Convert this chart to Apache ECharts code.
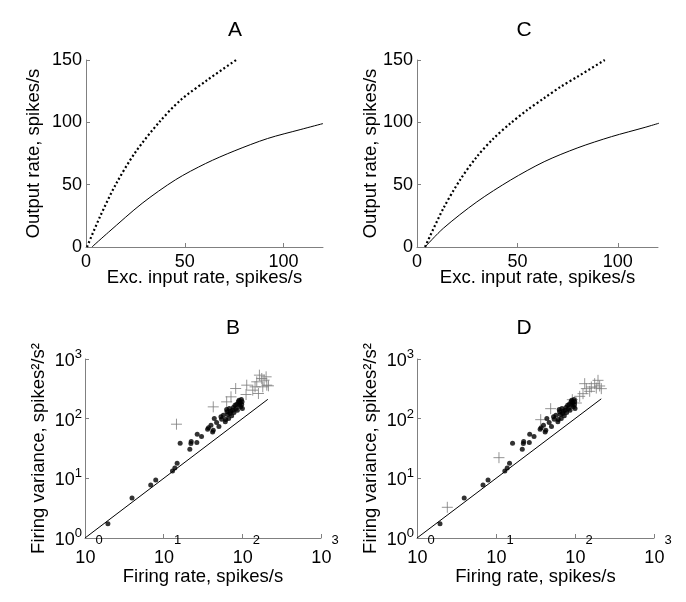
<!DOCTYPE html>
<html><head><meta charset="utf-8">
<script src="https://cdn.jsdelivr.net/npm/echarts@6/dist/echarts.min.js"></script>
<style>html,body{margin:0;padding:0;background:#fff}#c{width:686px;height:602px}</style>
</head><body><div id="c"></div>
<script>
// Panel A
const aSolidX = [3, 11.5, 28.4, 45.4, 60.6, 75, 91.9, 108.8, 120];
const aSolidY = [0, 12, 35, 54, 67, 77, 87, 94.3, 99];
const aDotX = [0.5, 7, 15, 25, 37, 48, 61.5, 76];
const aDotY = [0, 24, 50, 76, 100, 118, 134, 150];
// Panel C
const cSolidX = [4, 13.1, 29.8, 46.6, 63.3, 80.1, 96.8, 113.6, 120.5];
const cSolidY = [0, 15, 36.2, 53.7, 68.4, 79.6, 88.5, 96, 99.3];
const cDotX = [4, 13.1, 21.4, 29.8, 38.2, 46.6, 55, 63.3, 71.7, 80.1, 93.5];
const cDotY = [0, 30.9, 53.7, 72.4, 87.2, 99.3, 110, 119.4, 128.7, 136.8, 150];
// Panels B & D: filled dots (same in both)
const dotRate = [1.955, 3.96, 6.85, 7.93, 12.94, 13.86, 14.84, 16.2, 21.5, 22.2, 22.4, 26.7, 26.4, 30.3,
  36.2, 37.2, 39.9, 41.9, 42.7, 44.0, 47.1, 50.4, 53.5, 54.6, 57.3, 60.7, 61.4, 63.2, 63.8, 65.1,
  67.0, 68.3, 69.7, 71.0, 73.2, 75.4, 76.9, 78.4, 80.7, 83.1, 84.8, 86.4, 89.0, 90.8, 91.6, 93.5,
  95.3, 97.2, 98.1, 100.1, 99.1];
const dotVar = [1.74, 4.69, 7.75, 9.40, 13.31, 14.95, 17.9, 38.8, 30.7, 38.3, 41.3, 54.9, 39.8, 50.1,
  66.6, 70.1, 77.7, 60.0, 64.0, 100.5, 86.1, 73.8, 107.2, 98.0, 114.3, 88.4, 96.7, 142.3, 130.0, 117.3,
  100.5, 147.9, 122.0, 133.4, 111.4, 138.7, 153.8, 126.8, 168.3, 147.9, 174.9, 138.7, 191.4, 204.1, 168.3, 186.6,
  157.8, 209.4, 172.7, 147.9, 191.4];
// Panel B crosses
const bCrossRate = [14.55, 42.7, 63.2, 71.8, 82.3, 111.5, 113.7, 135.6, 145.2, 160.2, 164.9, 176.6, 200.6, 204.6, 181.9, 214.8, 189.1, 152.5];
const bCrossVar = [80.8, 157.8, 191.4, 232.2, 320.3, 254.1, 364.3, 300.4, 341.6, 264.1, 536.2, 471.4, 502.8, 364.3, 341.6, 354.9, 442, 414.4];
// Panel D crosses
const dCrossRate = [2.42, 10.9, 36.8, 49.2, 92.5, 104.0, 114.6, 126.3, 132.6, 139.1, 153.4, 161.0, 177.4, 195.5, 205.2, 215.4, 186];
const dCrossVar = [3.27, 22.2, 96.2, 147.1, 208.2, 183.0, 236.8, 262.4, 386.1, 318.4, 287.2, 339.5, 386.1, 439.0, 352.8, 318.4, 326];
// identity lines
const bLineX = [1, 211];
const dLineX = [1, 215];
// ticks
const linTicksX = [0, 50, 100];
const linTicksY = [0, 50, 100, 150];
const logTicks = [1, 10, 100, 1000];
const titles = ['A', 'C', 'B', 'D'];

const FONT = '"Liberation Sans", Arial, Helvetica, sans-serif';
const AX = '#808080';
const pairs = (xs, ys) => xs.map((x, i) => [x, ys[i]]);

const grids = [
  {left: 86, top: 60, width: 237, height: 187},
  {left: 417, top: 60, width: 241, height: 187},
  {left: 85, top: 359, width: 236, height: 179},
  {left: 417, top: 359, width: 237, height: 179}
].map(g => Object.assign(g, {containLabel: false, outerBoundsMode: 'none'}));

const common = {
  axisLine: {show: true, onZero: false, lineStyle: {color: AX, width: 1}},
  axisTick: {show: true, inside: true, length: 4, lineStyle: {color: AX, width: 1}},
  splitLine: {show: false},
  minorTick: {show: false},
  nameLocation: 'middle',
  nameMoveOverlap: false,
  nameTextStyle: {fontFamily: FONT, fontSize: 18.5, color: '#000'}
};
function linX(gi, name) {
  return Object.assign({}, common, {
    type: 'value', gridIndex: gi, min: 0, max: 120, interval: 50, name: name, nameGap: 21,
    axisLabel: {fontFamily: FONT, fontSize: 18, color: '#000', margin: 6, showMaxLabel: false,
      formatter: v => linTicksX.indexOf(v) >= 0 ? String(v) : ''}
  });
}
function linY(gi, name, gap) {
  return Object.assign({}, common, {
    type: 'value', gridIndex: gi, min: 0, max: 150, interval: 50, name: name, nameGap: gap,
    axisLabel: {fontFamily: FONT, fontSize: 18, color: '#000', margin: 4,
      formatter: v => linTicksY.indexOf(v) >= 0 ? String(v) : ''}
  });
}
const expOf = v => Math.round(Math.log10(v));
function logX(gi, name) {
  return Object.assign({}, common, {
    type: 'log', logBase: 10, gridIndex: gi, min: 1, max: 1000, splitNumber: 3, name: name, nameGap: 29,
    axisLabel: {margin: -4, color: '#000', showMaxLabel: true, showMinLabel: true,
      formatter: v => logTicks.indexOf(v) >= 0 ? '{b|10}{s|' + expOf(v) + '}' : '',
      rich: {
        b: {fontFamily: FONT, fontSize: 18, color: '#000', padding: [0, 0, 0, 8], verticalAlign: 'bottom'},
        s: {fontFamily: FONT, fontSize: 13, color: '#000', padding: [0, 0, 20, 0], verticalAlign: 'bottom'}
      }}
  });
}
function logY(gi, name) {
  return Object.assign({}, common, {
    type: 'log', logBase: 10, gridIndex: gi, min: 1, max: 1000, splitNumber: 3, name: name, nameGap: 36.5,
    axisLabel: {margin: 3, color: '#000', showMaxLabel: true, showMinLabel: true,
      formatter: v => logTicks.indexOf(v) >= 0 ? '{b|10}{s|' + expOf(v) + '}' : '',
      rich: {
        b: {fontFamily: FONT, fontSize: 18, color: '#000', verticalAlign: 'bottom'},
        s: {fontFamily: FONT, fontSize: 13, color: '#000', padding: [0, 0, 9, 0], verticalAlign: 'bottom'}
      }}
  });
}

const titlePos = [[235, 20], [524, 20], [233, 318], [524, 318]];
const lineOpts = {smooth: 0.3, showSymbol: false};
const option = {
  animation: false,
  backgroundColor: '#fff',
  title: titles.map((t, i) => ({text: t, left: titlePos[i][0], top: titlePos[i][1], textAlign: 'center', padding: 0,
    textStyle: {fontFamily: FONT, fontSize: 21, fontWeight: 'normal', color: '#000'}})),
  grid: grids,
  xAxis: [linX(0, 'Exc. input rate, spikes/s'), linX(1, 'Exc. input rate, spikes/s'),
          logX(2, 'Firing rate, spikes/s'), logX(3, 'Firing rate, spikes/s')],
  yAxis: [linY(0, 'Output rate, spikes/s', 43), linY(1, 'Output rate, spikes/s', 36.6),
          logY(2, 'Firing variance, spikes²/s²'), logY(3, 'Firing variance, spikes²/s²')],
  series: [
    Object.assign({type: 'line', xAxisIndex: 0, yAxisIndex: 0, data: pairs(aSolidX, aSolidY), lineStyle: {color: '#000', width: 1}}, lineOpts),
    Object.assign({type: 'line', xAxisIndex: 0, yAxisIndex: 0, data: pairs(aDotX, aDotY), lineStyle: {color: '#000', width: 2.2, type: [2, 2.4]}}, lineOpts),
    Object.assign({type: 'line', xAxisIndex: 1, yAxisIndex: 1, data: pairs(cSolidX, cSolidY), lineStyle: {color: '#000', width: 1}}, lineOpts),
    Object.assign({type: 'line', xAxisIndex: 1, yAxisIndex: 1, data: pairs(cDotX, cDotY), lineStyle: {color: '#000', width: 2.2, type: [2, 2.4]}}, lineOpts),
    {type: 'line', xAxisIndex: 2, yAxisIndex: 2, data: pairs(bLineX, bLineX), showSymbol: false, lineStyle: {color: '#000', width: 1}},
    {type: 'line', xAxisIndex: 3, yAxisIndex: 3, data: pairs(dLineX, dLineX), showSymbol: false, lineStyle: {color: '#000', width: 1}},
    {type: 'scatter', xAxisIndex: 2, yAxisIndex: 2, data: pairs(bCrossRate, bCrossVar), symbol: 'path://M5,0L5,10M0,5L10,5', symbolSize: 11,
      itemStyle: {color: 'none', borderColor: '#7a7a7a', borderWidth: 1}},
    {type: 'scatter', xAxisIndex: 3, yAxisIndex: 3, data: pairs(dCrossRate, dCrossVar), symbol: 'path://M5,0L5,10M0,5L10,5', symbolSize: 11,
      itemStyle: {color: 'none', borderColor: '#7a7a7a', borderWidth: 1}},
    {type: 'scatter', xAxisIndex: 2, yAxisIndex: 2, data: pairs(dotRate, dotVar), symbol: 'circle', symbolSize: 5, itemStyle: {color: '#000'}},
    {type: 'scatter', xAxisIndex: 3, yAxisIndex: 3, data: pairs(dotRate, dotVar), symbol: 'circle', symbolSize: 5, itemStyle: {color: '#000'}}
  ]
};
const chart = echarts.init(document.getElementById('c'), null, {renderer: 'canvas'});
chart.setOption(option);
</script></body></html>
